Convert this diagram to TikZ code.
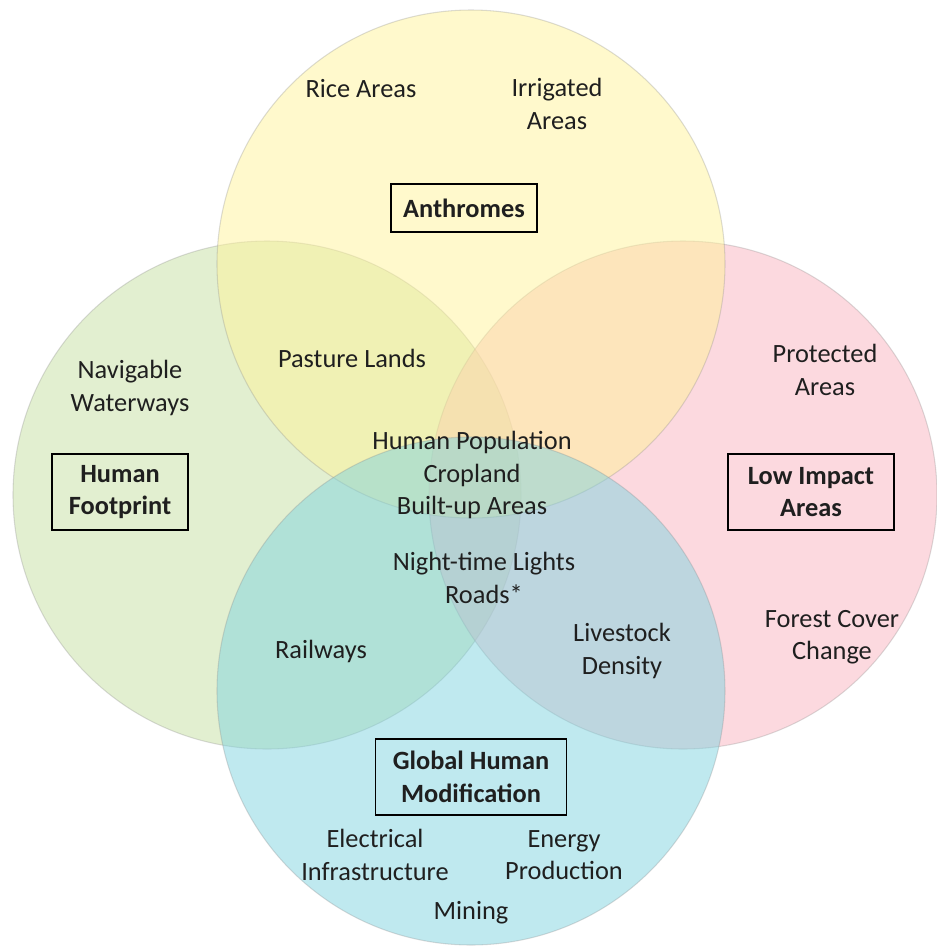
\documentclass[tikz,border=0pt]{standalone}
\usepackage{fontspec}
\setmainfont{Carlito}
\setsansfont{Carlito}
\usetikzlibrary{positioning}

\definecolor{anthroyellow}{RGB}{255,243,153}
\definecolor{footgreen}{RGB}{197,223,161}
\definecolor{lowpink}{RGB}{249,179,191}
\definecolor{modblue}{RGB}{127,211,223}

\begin{document}
\begin{tikzpicture}[
  every node/.style={font=\sffamily\fontsize{15}{18.4}\selectfont, text=black!88},
  venn/.style={circle, minimum size=10.16cm, inner sep=0pt, fill opacity=0.5, draw=black!45, draw opacity=0.3, line width=0.6pt},
  box/.style={draw, line width=0.75pt, align=center, font=\sffamily\bfseries\fontsize{15}{18.4}\selectfont, minimum height=0.96cm},
  item/.style={align=center}
]
\useasboundingbox (0,0) rectangle (18.74,-18.98);

% Circles
\node[venn, fill=footgreen] (foot) at (5.34,-9.90) {};
\node[venn, fill=lowpink] (low) at (13.66,-9.90) {};
\node[venn, fill=anthroyellow] (anthro) at (9.42,-5.28) {};
\node[venn, fill=modblue] (ghm) at (9.42,-13.82) {};

% Titles
\node[box, minimum width=2.92cm] (anthrobox) at (9.28,-4.16) {Anthromes};
\node[box, minimum width=2.72cm, minimum height=1.52cm] (footbox) at (2.40,-9.84) {Human\\Footprint};
\node[box, minimum width=3.32cm, minimum height=1.52cm] (lowbox) at (16.22,-9.84) {Low Impact\\Areas};
\node[box, minimum width=3.82cm, minimum height=1.52cm] (ghmbox) at (9.42,-15.54) {Global Human\\Modification};

% Top
\node[item] (rice) at (7.22,-1.78) {Rice Areas};
\node[item] (irrig) at (11.14,-2.08) {Irrigated\\Areas};

% Middle row
\node[item] (navig) at (2.60,-7.76) {Navigable\\Waterways};
\node[item] (pasture) at (7.04,-7.16) {Pasture Lands};
\node[item] (protect) at (16.50,-7.40) {Protected\\Areas};
\node[item] (centre) at (9.44,-9.50) {Human Population\\Cropland\\Built-up Areas};
\node[item] (lights) at (9.68,-11.56) {Night-time Lights\\Roads*};
\node[item] (rail) at (6.42,-13.02) {Railways};
\node[item] (livestock) at (12.44,-13.02) {Livestock\\Density};
\node[item] (forest) at (16.64,-12.74) {Forest Cover\\Change};

% Bottom
\node[item] (elec) at (7.50,-17.10) {Electrical\\Infrastructure};
\node[item] (energy) at (11.28,-17.10) {Energy\\Production};
\node[item] (mining) at (9.42,-18.26) {Mining};

\end{tikzpicture}
\end{document}
